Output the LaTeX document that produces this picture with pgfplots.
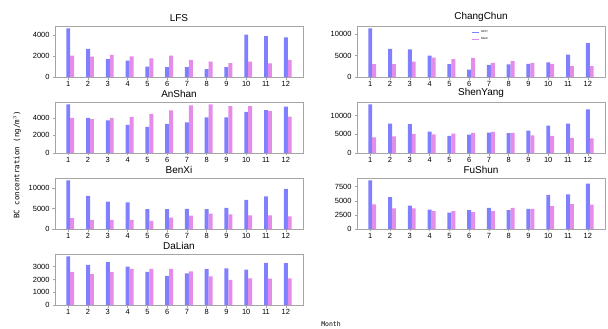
\documentclass[border=0pt]{standalone}
\usepackage{pgfplots}
\usepackage{pgfplotstable}
\usepackage{fontspec}
\setmainfont{Liberation Sans}
\newfontfamily\monofont{DejaVu Sans Mono}
\pgfplotsset{compat=1.18}
\definecolor{cA}{RGB}{128,128,255}
\definecolor{cB}{RGB}{228,140,234}
\definecolor{frm}{RGB}{165,165,165}

% m = month, a = blue series, b = pink series
\pgfplotstableread{
m a b
1 4650 2050
2 2700 1950
3 1720 2110
4 1560 1980
5 1000 1790
6 940 2050
7 940 1630
8 750 1460
9 940 1330
10 4060 1460
11 3900 1300
12 3800 1630
}\LFS
\pgfplotstableread{
m a b
1 11260 3000
2 6540 3000
3 6380 3540
4 4960 4490
5 3000 4170
6 1730 4410
7 2830 3300
8 2910 3700
9 3070 3300
10 3390 3070
11 5200 2520
12 7870 2520
}\ChangChun
\pgfplotstableread{
m a b
1 5520 4000
2 4000 3850
3 3700 4000
4 3200 4110
5 2970 4460
6 3310 4840
7 3470 5410
8 4040 5520
9 4040 5330
10 4690 5330
11 4880 4800
12 5260 4150
}\AnShan
\pgfplotstableread{
m a b
1 12950 4200
2 7860 4460
3 7680 5090
4 5710 5000
5 4550 5180
6 4910 5360
7 5450 5630
8 5270 5360
9 5980 4730
10 7320 4550
11 7860 4020
12 11610 3930
}\ShenYang
\pgfplotstableread{
m a b
1 11830 2670
2 8080 2250
3 6670 2250
4 6500 2250
5 4830 2000
6 4830 2750
7 4920 3250
8 4830 3750
9 5170 3580
10 7080 3330
11 7920 3330
12 9750 3080
}\BenXi
\pgfplotstableread{
m a b
1 8600 4360
2 5630 3630
3 4120 3630
4 3450 3150
5 2910 3150
6 3330 2970
7 3750 3150
8 3330 3750
9 3570 3570
10 6050 4060
11 6110 4420
12 8050 4300
}\FuShun
\pgfplotstableread{
m a b
1 3800 2600
2 3140 2410
3 3350 2600
4 3000 2820
5 2600 2820
6 2280 2820
7 2470 2630
8 2820 2230
9 2870 1960
10 2760 2090
11 3300 2060
12 3270 2090
}\DaLian

\pgfplotsset{
  city/.style={
    scale only axis, width=248bp, height=51bp, anchor=north west,
    xmin=0.33, xmax=12.87, ymin=0,
    xtick={1,...,12},
    axis line style={frm, line width=0.6bp},
    tick style={frm, line width=0.5bp},
    major tick length=2.5bp,
    tick align=outside, tick pos=left,
    tick label style={font=\fontsize{7.5}{7.5}\selectfont},
    /pgf/number format/assume math mode=true,
    scaled y ticks=false,
    yticklabel style={/pgf/number format/1000 sep={}, xshift=0.5bp},
    xticklabel style={yshift=2bp},
    title style={font=\fontsize{10}{10}\selectfont, yshift=-5.5bp},
    ybar, bar width=0.2, bar shift=0pt,
  },
  sA/.style={fill=cA, draw=none},
  sB/.style={fill=cB, draw=none},
}

\begin{document}
\begin{tikzpicture}
\useasboundingbox (0,0) rectangle (608bp,-329bp);

\begin{axis}[city, at={(55bp,-26bp)}, title={LFS}, ymax=4880, ytick={0,2000,4000}]
\addplot[sA] table[x=m, y=a] {\LFS};
\addplot[sB] table[x expr=\thisrow{m}+0.2, y=b] {\LFS};
\end{axis}

\begin{axis}[city, at={(357bp,-26bp)}, title={ChangChun}, ymax=11820, ytick={0,5000,10000},
  legend style={at={(0.5,0.96)}, anchor=north, draw=none, fill=none,
    font=\fontsize{3}{3}\selectfont, inner sep=0.5bp, row sep=-0.5bp},
  legend cell align=left,
  legend image code/.code={\fill[#1] (0bp,-0.8bp) rectangle (7bp,0.8bp);}]
\addplot[sA] table[x=m, y=a] {\ChangChun};
\addplot[sB] table[x expr=\thisrow{m}+0.2, y=b] {\ChangChun};
\legend{ACH, Mer2}
\end{axis}

\begin{axis}[city, at={(55bp,-102bp)}, title={AnShan}, ymax=5800, ytick={0,2000,4000}]
\addplot[sA] table[x=m, y=a] {\AnShan};
\addplot[sB] table[x expr=\thisrow{m}+0.2, y=b] {\AnShan};
\end{axis}

\begin{axis}[city, at={(357bp,-102bp)}, title={ShenYang}, ymax=13600, ytick={0,5000,10000}]
\addplot[sA] table[x=m, y=a] {\ShenYang};
\addplot[sB] table[x expr=\thisrow{m}+0.2, y=b] {\ShenYang};
\end{axis}

\begin{axis}[city, at={(55bp,-178bp)}, title={BenXi}, ymax=12420, ytick={0,5000,10000}]
\addplot[sA] table[x=m, y=a] {\BenXi};
\addplot[sB] table[x expr=\thisrow{m}+0.2, y=b] {\BenXi};
\end{axis}

\begin{axis}[city, at={(357bp,-178bp)}, title={FuShun}, ymax=9030, ytick={0,2500,5000,7500}]
\addplot[sA] table[x=m, y=a] {\FuShun};
\addplot[sB] table[x expr=\thisrow{m}+0.2, y=b] {\FuShun};
\end{axis}

\begin{axis}[city, at={(55bp,-254bp)}, title={DaLian}, ymax=3990, ytick={0,1000,2000,3000}]
\addplot[sA] table[x=m, y=a] {\DaLian};
\addplot[sB] table[x expr=\thisrow{m}+0.2, y=b] {\DaLian};
\end{axis}

\node[rotate=90, font=\monofont\fontsize{7.5}{7.5}\selectfont] at (17bp,-165bp) {BC concentration (ng/m$^{3}$)};
\node[font=\monofont\fontsize{6.5}{6.5}\selectfont] at (331bp,-324bp) {Month};
\end{tikzpicture}
\end{document}
